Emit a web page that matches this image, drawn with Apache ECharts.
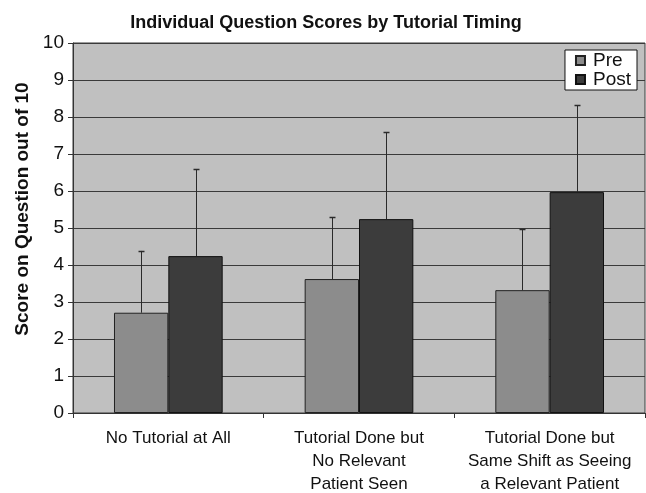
<!DOCTYPE html>
<html><head><meta charset="utf-8">
<script src="https://cdn.jsdelivr.net/npm/echarts@6/dist/echarts.min.js"></script>
<style>html,body{margin:0;padding:0;background:#fff}#c{width:646px;height:493px}</style>
</head><body><div id="c"></div>
<script>
var categories = ['No Tutorial at All', 'Tutorial Done but\nNo Relevant\nPatient Seen', 'Tutorial Done but\nSame Shift as Seeing\na Relevant Patient'];
var preValues = [2.71, 3.62, 3.32];
var postValues = [4.24, 5.24, 5.97];
var preUpper = [4.38, 5.29, 4.97];
var postUpper = [6.59, 7.59, 8.32];
var yTicks = [0,1,2,3,4,5,6,7,8,9,10];

var GAP = 0.43;
function errSeries(name, vals, upper, side) {
  var data = vals.map(function (v, i) { return [i, v, upper[i]]; });
  return {
    type: 'custom', name: name + ' err', z: 5, silent: true,
    data: data,
    encode: { x: 0, y: [1, 2] },
    renderItem: function (params, api) {
      var i = api.value(0);
      var lo = api.coord([i, api.value(1)]);
      var hi = api.coord([i, api.value(2)]);
      var cw = api.size([1, 0])[0];
      var off = side * cw * (1 - GAP) / 4;
      var x = Math.round(lo[0] + off) + 0.5;
      return {
        type: 'group',
        children: [
          { type: 'line', shape: { x1: x, y1: lo[1], x2: x, y2: hi[1] }, style: { stroke: '#2a2a2a', lineWidth: 1 } },
          { type: 'line', shape: { x1: x - 3, y1: Math.round(hi[1]) + 0.5, x2: x + 3, y2: Math.round(hi[1]) + 0.5 }, style: { stroke: '#2a2a2a', lineWidth: 1.5 } }
        ]
      };
    }
  };
}

var chart = echarts.init(document.getElementById('c'));
chart.setOption({
  animation: false,
  backgroundColor: '#fff',
  title: {
    text: 'Individual Question Scores by Tutorial Timing',
    left: 321, top: 9, textAlign: 'center',
    textStyle: { fontFamily: 'Liberation Sans', fontWeight: 'bold', fontSize: 18, color: '#111' }
  },
  legend: {
    right: 9, top: 50, orient: 'vertical',
    data: ['Pre', 'Post'],
    icon: 'rect',
    backgroundColor: '#fff', borderColor: '#111', borderWidth: 1,
    padding: [1, 6, 1, 10], itemGap: 0,
    itemWidth: 9, itemHeight: 9,
    textStyle: { fontFamily: 'Liberation Sans', fontSize: 19, color: '#111', padding: [0, 0, 0, 3] }
  },
  grid: { left: 73, right: 1, top: 43, bottom: 80, containLabel: false, outerBoundsMode: 'none', show: true, backgroundColor: '#c0c0c0', borderColor: '#3a3a3a', borderWidth: 1 },
  xAxis: {
    type: 'category', data: categories,
    axisLine: { lineStyle: { color: '#333', width: 1 } },
    axisTick: { show: true, length: 5, lineStyle: { color: '#333' } },
    axisLabel: { interval: 0, fontFamily: 'Liberation Sans', fontSize: 17, color: '#111', lineHeight: 23, margin: 14 }
  },
  yAxis: {
    type: 'value', min: 0, max: 10, interval: 1,
    name: 'Score on Question out of 10', nameLocation: 'middle', nameGap: 40,
    nameTextStyle: { fontFamily: 'Liberation Sans', fontWeight: 'bold', fontSize: 19, color: '#111', padding: [0, 0, 0, 38] },
    axisLine: { show: true, lineStyle: { color: '#333' } },
    axisTick: { show: true, length: 5, lineStyle: { color: '#333' } },
    axisLabel: { fontFamily: 'Liberation Sans', fontSize: 19, color: '#111', margin: 9, formatter: function (v) { return yTicks.indexOf(v) >= 0 ? String(v) : ''; } },
    splitLine: { show: true, lineStyle: { color: '#3a3a3a', width: 1 } }
  },
  series: [
    { name: 'Pre', type: 'bar', data: preValues, barGap: '0%', barCategoryGap: (GAP * 100) + '%',
      itemStyle: { color: '#8c8c8c', borderColor: '#222', borderWidth: 1 } },
    { name: 'Post', type: 'bar', data: postValues, barGap: '0%', barCategoryGap: (GAP * 100) + '%',
      itemStyle: { color: '#3c3c3c', borderColor: '#111', borderWidth: 1 } },
    errSeries('Pre', preValues, preUpper, -1),
    errSeries('Post', postValues, postUpper, 1)
  ]
});
</script></body></html>
